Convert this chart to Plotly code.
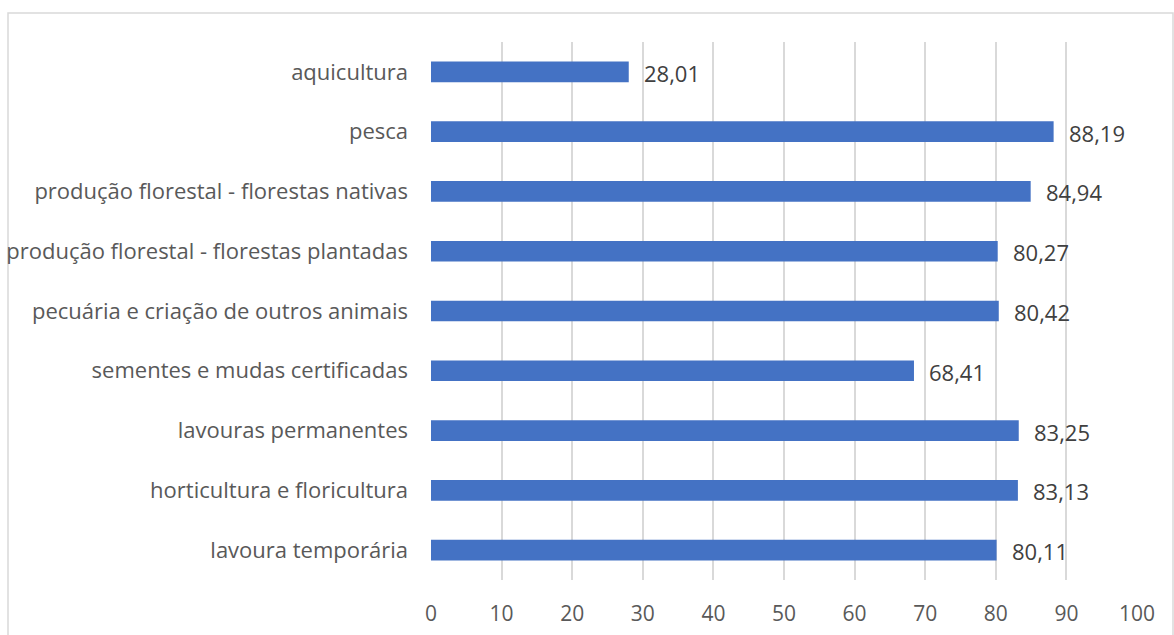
import plotly.graph_objects as go

categories = [
    "lavoura temporária",
    "horticultura e floricultura",
    "lavouras permanentes",
    "sementes e mudas certificadas",
    "pecuária e criação de outros animais",
    "produção florestal - florestas plantadas",
    "produção florestal - florestas nativas",
    "pesca",
    "aquicultura",
]
values = [80.11, 83.13, 83.25, 68.41, 80.42, 80.27, 84.94, 88.19, 28.01]
x_ticks = [0, 10, 20, 30, 40, 50, 60, 70, 80, 90, 100]

FONT = "Open Sans"
TXT = "#595959"

fig = go.Figure()
fig.add_trace(go.Bar(
    y=categories, x=values, orientation="h",
    marker=dict(color="#4472C4", line=dict(width=0)),
    hoverinfo="skip",
))

annotations = []
for c, v in zip(categories, values):
    annotations.append(dict(
        x=v, y=c, xref="x", yref="y",
        text=f"{v:.2f}".replace(".", ","),
        showarrow=False, xanchor="left", yanchor="middle",
        xshift=13, yshift=-1,
        font=dict(family=FONT, size=22, color="#404040"),
    ))

W, H = 1174, 635
L, R, T, B = 431, 37, 42, 55
pw, ph = W - L - R, H - T - B

fig.update_layout(
    width=W, height=H,
    margin=dict(l=L, r=R, t=T, b=B, pad=0, autoexpand=False),
    paper_bgcolor="white", plot_bgcolor="white",
    bargap=0.654,
    showlegend=False,
    separators=",.",
    annotations=annotations,
    font=dict(family=FONT, size=21, color=TXT),
    xaxis=dict(
        range=[0, 100], tickvals=x_ticks, showgrid=True,
        gridcolor="#d9d9d9", gridwidth=1.5, zeroline=False,
        showline=False, ticks="", ticklabelstandoff=19,
        tickfont=dict(family=FONT, size=21, color=TXT),
        fixedrange=True, automargin=False,
    ),
    yaxis=dict(
        categoryorder="array", categoryarray=categories,
        showgrid=False, zeroline=False, showline=False, ticks="",
        ticklabelstandoff=22,
        tickfont=dict(family=FONT, size=22, color=TXT),
        fixedrange=True, automargin=False,
    ),
    shapes=[dict(
        type="rect", xref="paper", yref="paper",
        x0=(8 - L) / pw, x1=(1173 - L) / pw,
        y0=-(H + 20 - T - ph) / ph, y1=1 + (T - 13) / ph,
        line=dict(color="#d9d9d9", width=1.5), fillcolor="rgba(0,0,0,0)",
        layer="below",
    )],
)

fig.write_html("out.html", config={"displayModeBar": False})
